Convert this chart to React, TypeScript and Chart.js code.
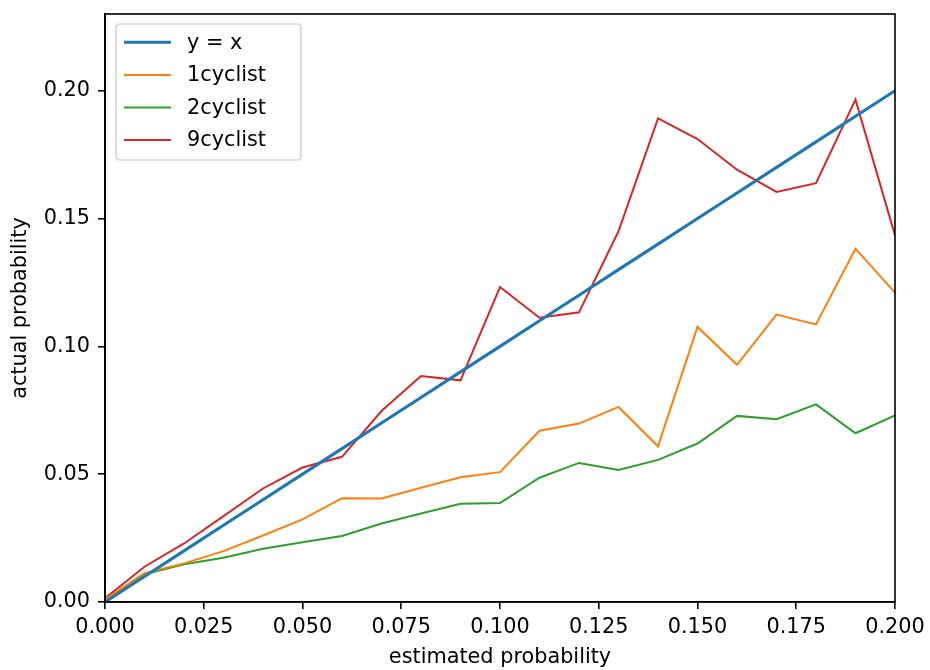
import React, { useEffect, useRef } from "react";
import { Chart, registerables } from "chart.js";

Chart.register(...registerables);

const estimated = [0, 0.01, 0.02, 0.03, 0.04, 0.05, 0.06, 0.07, 0.08, 0.09, 0.1, 0.11, 0.12, 0.13, 0.14, 0.15, 0.16, 0.17, 0.18, 0.19, 0.2];
const identity = [0, 0.01, 0.02, 0.03, 0.04, 0.05, 0.06, 0.07, 0.08, 0.09, 0.1, 0.11, 0.12, 0.13, 0.14, 0.15, 0.16, 0.17, 0.18, 0.19, 0.2];
const cyclist1 = [0.001, 0.0113, 0.0151, 0.0199, 0.026, 0.0323, 0.0406, 0.0405, 0.0447, 0.0488, 0.0508, 0.067, 0.0698, 0.0763, 0.0609, 0.1076, 0.0928, 0.1124, 0.1086, 0.1382, 0.121];
const cyclist2 = [0.001, 0.0108, 0.0148, 0.0173, 0.0208, 0.0234, 0.0258, 0.0307, 0.0346, 0.0384, 0.0387, 0.0486, 0.0544, 0.0516, 0.0556, 0.062, 0.0728, 0.0715, 0.0773, 0.066, 0.073];
const cyclist9 = [0.0015, 0.0138, 0.0229, 0.0336, 0.0444, 0.0526, 0.0568, 0.0747, 0.0884, 0.0867, 0.1232, 0.1112, 0.1133, 0.145, 0.1892, 0.1811, 0.1691, 0.1604, 0.1638, 0.1965, 0.1434];
const seriesLabels = ["y = x", "1cyclist", "2cyclist", "9cyclist"];
const xTicks = [0, 0.025, 0.05, 0.075, 0.1, 0.125, 0.15, 0.175, 0.2];
const yTicks = [0, 0.05, 0.1, 0.15, 0.2];

const FONT = "'DejaVu Sans', sans-serif";
const FS = 20.8;

const framePlugin = {
  id: "frame",
  afterDatasetsDraw(chart: any) {
    const { ctx, chartArea: a } = chart;
    ctx.save();
    ctx.strokeStyle = "#000";
    ctx.lineWidth = 1.6;
    ctx.strokeRect(a.left, a.top, a.right - a.left, a.bottom - a.top);
    ctx.restore();
  },
};

const legendPlugin = {
  id: "mplLegend",
  afterDraw(chart: any) {
    const { ctx, chartArea: a } = chart;
    const x0 = a.left + 11;
    const y0 = a.top + 10;
    const w = 185;
    const h = 136;
    ctx.save();
    ctx.beginPath();
    const r = 4;
    ctx.moveTo(x0 + r, y0);
    ctx.lineTo(x0 + w - r, y0);
    ctx.quadraticCurveTo(x0 + w, y0, x0 + w, y0 + r);
    ctx.lineTo(x0 + w, y0 + h - r);
    ctx.quadraticCurveTo(x0 + w, y0 + h, x0 + w - r, y0 + h);
    ctx.lineTo(x0 + r, y0 + h);
    ctx.quadraticCurveTo(x0, y0 + h, x0, y0 + h - r);
    ctx.lineTo(x0, y0 + r);
    ctx.quadraticCurveTo(x0, y0, x0 + r, y0);
    ctx.closePath();
    ctx.fillStyle = "rgba(255,255,255,0.8)";
    ctx.fill();
    ctx.strokeStyle = "#d5d5d5";
    ctx.lineWidth = 1.6;
    ctx.stroke();
    ctx.font = `${FS}px ${FONT}`;
    ctx.textBaseline = "middle";
    chart.data.datasets.forEach((ds: any, i: number) => {
      const y = y0 + 18.3 + i * 32.6;
      ctx.beginPath();
      ctx.strokeStyle = ds.borderColor;
      ctx.lineWidth = ds.borderWidth;
      ctx.moveTo(x0 + 8, y);
      ctx.lineTo(x0 + 55, y);
      ctx.stroke();
      ctx.fillStyle = "#000";
      ctx.fillText(ds.label, x0 + 71, y + 1);
    });
    ctx.restore();
  },
};

export default function App() {
  const ref = useRef<HTMLCanvasElement>(null);
  useEffect(() => {
    document.body.style.margin = "0";
    const colors = ["#1f77b4", "#ff7f0e", "#2ca02c", "#d62728"];
    const widths = [3.1, 2, 2, 2];
    const series = [identity, cyclist1, cyclist2, cyclist9];
    const chart = new Chart(ref.current!, {
      type: "line",
      data: {
        datasets: series.map((s, i) => ({
          label: seriesLabels[i],
          data: s.map((v, j) => ({ x: estimated[j], y: v })),
          borderColor: colors[i],
          backgroundColor: colors[i],
          borderWidth: widths[i],
          pointRadius: 0,
          tension: 0,
          fill: false,
        })),
      },
      options: {
        animation: false,
        responsive: false,
        devicePixelRatio: 1,
        layout: { padding: { left: 0, right: 35, top: 14, bottom: 0 } },
        plugins: { legend: { display: false }, tooltip: { enabled: false } },
        scales: {
          x: {
            type: "linear",
            min: 0,
            max: 0.2,
            afterBuildTicks: (s: any) => { s.ticks = xTicks.map((v) => ({ value: v })); },
            afterFit: (s: any) => { s.height = 68; s.paddingLeft = 0; s.paddingRight = 0; },
            ticks: {
              color: "#000",
              font: { family: FONT, size: FS },
              padding: 6,
              maxRotation: 0,
              autoSkip: false,
              callback: (v: any) => Number(v).toFixed(3),
            },
            grid: { drawOnChartArea: false, drawTicks: true, tickLength: 7, color: "#000", lineWidth: 1.6 },
            border: { display: true, color: "#000", width: 1.6 },
            title: { display: true, text: "estimated probability", color: "#000", font: { family: FONT, size: FS }, padding: { top: 1, bottom: 0 } },
          },
          y: {
            type: "linear",
            min: 0,
            max: 0.23,
            afterBuildTicks: (s: any) => { s.ticks = yTicks.map((v) => ({ value: v })); },
            afterFit: (s: any) => { s.width = 105; s.paddingTop = 0; s.paddingBottom = 0; },
            ticks: {
              color: "#000",
              font: { family: FONT, size: FS },
              padding: 8,
              autoSkip: false,
              callback: (v: any) => Number(v).toFixed(2),
            },
            grid: { drawOnChartArea: false, drawTicks: true, tickLength: 7, color: "#000", lineWidth: 1.6 },
            border: { display: true, color: "#000", width: 1.6 },
            title: { display: true, text: "actual probability", color: "#000", font: { family: FONT, size: FS }, padding: { top: 8, bottom: 4 } },
          },
        },
      },
      plugins: [framePlugin, legendPlugin],
    });
    return () => chart.destroy();
  }, []);
  return (
    <div style={{ width: 930, height: 670, background: "#fff" }}>
      <canvas ref={ref} width={930} height={670} style={{ display: "block" }} />
    </div>
  );
}
